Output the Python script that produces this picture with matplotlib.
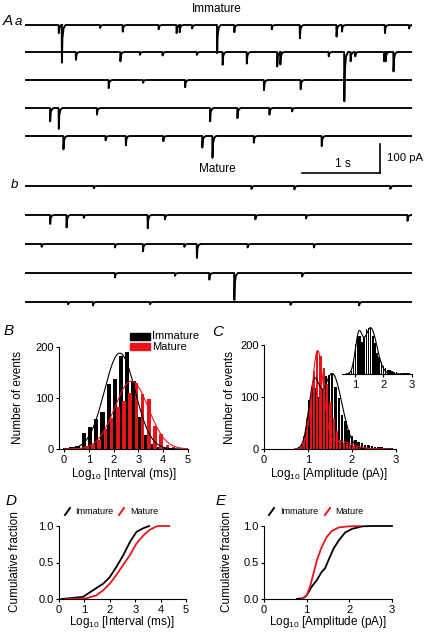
import numpy as np
import matplotlib
matplotlib.use("Agg")
import matplotlib.pyplot as plt
from matplotlib.patches import Rectangle
from matplotlib.lines import Line2D

plt.rcParams['font.family'] = ['Liberation Sans', 'DejaVu Sans']
plt.rcParams['mathtext.fontset'] = 'custom'
plt.rcParams['mathtext.rm'] = 'Liberation Sans'

# ---------------- data ----------------
# spontaneous EPSC traces: event times (s) and amplitudes (pA)
imm_event_times = [
    [0.43, 0.47, 0.96, 1.25, 1.71, 1.94, 1.98, 2.14, 2.46, 2.68, 3.16, 3.52, 3.99, 4.06, 4.61, 4.92],
    [0.65, 1.22, 1.47, 1.76, 2.20, 2.53, 2.84, 3.23, 3.27, 3.89, 4.09, 4.17, 4.23, 4.60, 4.62, 4.72],
    [1.07, 1.51, 2.05, 3.06, 3.53],
    [0.32, 0.43, 0.92, 2.37, 2.72, 3.13, 3.42],
    [0.49, 1.03, 1.29, 1.77, 2.27, 2.40, 2.93, 3.80],
]
imm_event_amps = [
    [28, 130, 10, 23, 15, 28, 25, 12, 97, 25, 15, 46, 40, 23, 28, 12],
    [27, 32, 10, 12, 10, 44, 40, 50, 43, 15, 170, 32, 15, 32, 32, 67],
    [28, 10, 25, 35, 32],
    [46, 72, 23, 46, 35, 23, 12],
    [46, 15, 32, 18, 40, 75, 23, 35],
]
mat_event_times = [
    [0.88, 2.90, 3.45, 4.68],
    [0.32, 0.53, 0.75, 1.57, 1.79, 2.95, 3.60, 4.90],
    [0.21, 1.15, 1.51, 2.04, 2.20, 2.85, 3.70],
    [1.15, 1.92, 2.36, 2.68, 3.55],
    [0.55, 0.87, 1.60, 3.40, 4.28],
]
mat_event_amps = [
    [8, 10, 12, 10],
    [31, 43, 10, 46, 15, 15, 12, 20],
    [10, 12, 25, 10, 48, 12, 12],
    [15, 10, 23, 93, 12],
    [8, 12, 8, 10, 12],
]

# B: interval histogram (log10 ms)
imm_interval_centers = [0.05, 0.30, 0.55, 0.80, 1.05, 1.30, 1.55, 1.80, 2.05, 2.30,
                        2.55, 2.80, 3.05, 3.30, 3.55, 3.80, 4.05]
imm_interval_counts = [2, 3, 5, 32, 43, 59, 73, 127, 137, 183, 190, 133, 63, 27, 10, 3, 2]
mat_interval_centers = [0.67, 0.92, 1.17, 1.42, 1.67, 1.92, 2.17, 2.42, 2.67, 2.92,
                        3.17, 3.42, 3.67, 3.92, 4.17, 4.42]
mat_interval_counts = [2, 5, 10, 18, 40, 60, 82, 95, 110, 130, 108, 98, 45, 30, 8, 3]
# Gaussian fit parameters (amplitude, mean, sd)
imm_interval_fit = [(188, 2.25, 0.62)]
mat_interval_fit = [(133, 2.72, 0.68)]

# C: amplitude histogram (log10 pA)
imm_amp_centers = [0.800, 0.875, 0.950, 1.025, 1.100, 1.175, 1.250, 1.325, 1.400, 1.475,
                   1.550, 1.625, 1.700, 1.775, 1.850, 1.925, 2.000, 2.075, 2.150, 2.225,
                   2.300, 2.375, 2.450, 2.525, 2.600, 2.675, 2.750, 2.825, 2.900]
imm_amp_counts = [3, 10, 40, 95, 120, 118, 100, 115, 140, 143, 147, 120, 98, 66, 53, 37,
                  25, 18, 13, 11, 8, 7, 5, 4, 3, 3, 2, 2, 2]
mat_amp_centers = [0.835, 0.910, 0.985, 1.060, 1.135, 1.210, 1.285, 1.360, 1.435, 1.510,
                   1.585, 1.660, 1.735, 1.810, 1.885, 1.960, 2.035, 2.110, 2.185, 2.260]
mat_amp_counts = [5, 25, 60, 100, 150, 188, 178, 155, 125, 90, 60, 35, 18, 12, 9, 7, 5, 4, 3, 2]
imm_amp_fit = [(110, 1.13, 0.12), (145, 1.55, 0.22)]
mat_amp_fit = [(185, 1.22, 0.13), (15, 1.70, 0.30)]

# D: cumulative interval distributions
imm_cum_int_x = [0.10, 0.95, 1.34, 1.74, 2.00, 2.26, 2.53, 2.79, 3.05, 3.32, 3.55]
imm_cum_int_y = [0.00, 0.03, 0.12, 0.21, 0.30, 0.44, 0.60, 0.78, 0.92, 0.97, 1.00]
mat_cum_int_x = [0.30, 1.08, 1.47, 1.74, 2.00, 2.26, 2.53, 2.79, 3.05, 3.32, 3.58, 3.84, 3.97, 4.34]
mat_cum_int_y = [0.00, 0.01, 0.05, 0.12, 0.21, 0.33, 0.47, 0.60, 0.76, 0.87, 0.95, 0.995, 1.00, 1.00]

# E: cumulative amplitude distributions
imm_cum_amp_x = [0.77, 0.92, 1.00, 1.12, 1.24, 1.35, 1.43, 1.51, 1.63, 1.75, 1.90, 2.06, 2.30, 2.53, 3.00]
imm_cum_amp_y = [0.00, 0.01, 0.05, 0.17, 0.26, 0.37, 0.42, 0.53, 0.69, 0.80, 0.91, 0.96, 0.995, 1.00, 1.00]
mat_cum_amp_x = [0.88, 1.00, 1.08, 1.16, 1.24, 1.35, 1.47, 1.59, 1.75, 1.98, 2.25]
mat_cum_amp_y = [0.00, 0.05, 0.17, 0.35, 0.53, 0.71, 0.85, 0.93, 0.98, 0.995, 1.00]

RED = '#e8141c'
W, H = 424, 632

fig = plt.figure(figsize=(W / 100, H / 100), dpi=100)


def add_ax(l, t, r, b):
    return fig.add_axes([l / W, 1 - b / H, (r - l) / W, (b - t) / H])


def ftext(x, y, s, **kw):
    fig.text(x / W, 1 - y / H, s, **kw)


def gauss(x, comps):
    y = np.zeros_like(x)
    for a, m, s in comps:
        y += a * np.exp(-(x - m) ** 2 / (2 * s ** 2))
    return y


def style(ax, fs=8):
    for sp in ['top', 'right']:
        ax.spines[sp].set_visible(False)
    for sp in ['left', 'bottom']:
        ax.spines[sp].set_linewidth(0.8)
    ax.tick_params(direction='out', length=2.5, width=0.8, labelsize=fs, pad=1.5)


# ---------------- traces ----------------
axt = add_ax(25, 0, 412, 330)
axt.set_xlim(0, 4.96)
pa_per_px = 100 / 29.0
axt.set_ylim(-330 * pa_per_px, 0)
axt.axis('off')

kern_dt = [0.0, 0.003, 0.010, 0.025, 0.05]
kern_fr = [0.0, 1.0, 0.35, 0.08, 0.0]


def draw_trace(ax, base, times, amps):
    xs, ys = [0.0], [base]
    for t, a in sorted(zip(times, amps)):
        for dt, fr in zip(kern_dt, kern_fr):
            xs.append(t + dt)
            ys.append(base - a * fr)
    xs.append(4.96)
    ys.append(base)
    ax.plot(xs, ys, color='black', lw=1.35, solid_joinstyle='round')


imm_base_px = [25, 52, 80, 108, 136]
mat_base_px = [186, 215, 244, 273, 302]
for bpx, tt, aa in zip(imm_base_px, imm_event_times, imm_event_amps):
    draw_trace(axt, -bpx * pa_per_px, tt, aa)
for bpx, tt, aa in zip(mat_base_px, mat_event_times, mat_event_amps):
    draw_trace(axt, -bpx * pa_per_px, tt, aa)

# scale bars: 1 s, 100 pA
sb_y = -173 * pa_per_px
axt.plot([3.55, 4.55], [sb_y, sb_y], color='black', lw=1.2)
axt.plot([4.55, 4.55], [sb_y, sb_y + 100], color='black', lw=1.2)

ftext(217, 9, 'Immature', ha='center', va='center', fontsize=8.5)
ftext(217, 169, 'Mature', ha='center', va='center', fontsize=8.5)
ftext(343, 164, '1 s', ha='center', va='center', fontsize=8.5)
ftext(387, 158, '100 pA', ha='left', va='center', fontsize=8.2)
ftext(3, 21, 'A', ha='left', va='center', fontsize=11, style='italic')
ftext(15, 22, 'a', ha='left', va='center', fontsize=9.5, style='italic')
ftext(11, 185, 'b', ha='left', va='center', fontsize=9.5, style='italic')

# ---------------- B ----------------
axB = add_ax(59, 347, 188, 449)
axB.bar(imm_interval_centers, imm_interval_counts, width=0.17, color='black', zorder=2)
axB.bar(mat_interval_centers, mat_interval_counts, width=0.15, color=RED, zorder=3)
xg = np.linspace(0, 5, 300)
axB.plot(xg, gauss(xg, imm_interval_fit), color='black', lw=0.8, zorder=4)
axB.plot(xg, gauss(xg, mat_interval_fit), color=RED, lw=0.8, zorder=4)
axB.set_xlim(-0.2, 5)
axB.set_ylim(0, 200)
axB.set_xticks([0, 1, 2, 3, 4, 5])
axB.set_yticks([0, 100, 200])
style(axB)

# legend B
fig.add_artist(Rectangle((130 / W, 1 - 340 / H), 20 / W, 7 / H, transform=fig.transFigure, color='black'))
fig.add_artist(Rectangle((130 / W, 1 - 350 / H), 20 / W, 7 / H, transform=fig.transFigure, color=RED))
ftext(152, 336, 'Immature', ha='left', va='center', fontsize=8)
ftext(152, 347, 'Mature', ha='left', va='center', fontsize=8)

ftext(18, 398, 'Number of events', rotation=90, ha='center', va='center', fontsize=8.5)
ftext(124, 474, r'Log$_{\mathregular{10}}$ [Interval (ms)]', ha='center', va='center', fontsize=8.5)
ftext(4, 331, 'B', ha='left', va='center', fontsize=11, style='italic')

# ---------------- C ----------------
axC = add_ax(264, 345, 396, 449)
axC.bar(imm_amp_centers, imm_amp_counts, width=0.055, color='black', zorder=2)
axC.bar(mat_amp_centers, mat_amp_counts, width=0.05, color=RED, zorder=3)
xc = np.linspace(0.7, 2.9, 300)
axC.plot(xc, gauss(xc, imm_amp_fit), color='black', lw=0.8, zorder=4)
axC.plot(xc, gauss(xc, mat_amp_fit), color=RED, lw=0.8, zorder=4)
axC.set_xlim(0, 3)
axC.set_ylim(0, 200)
axC.set_xticks([0, 1, 2, 3])
axC.set_yticks([0, 100, 200])
style(axC)

ftext(230, 398, 'Number of events', rotation=90, ha='center', va='center', fontsize=8.5)
ftext(329, 474, r'Log$_{\mathregular{10}}$ [Amplitude (pA)]', ha='center', va='center', fontsize=8.5)
ftext(212, 332, 'C', ha='left', va='center', fontsize=11, style='italic')

# inset
axI = add_ax(342, 323, 412, 374)
axI.bar(imm_amp_centers, imm_amp_counts, width=0.055, color='black', zorder=2)
axI.plot(xc, gauss(xc, imm_amp_fit), color='black', lw=0.8, zorder=3)
axI.set_xlim(0.55, 3)
axI.set_ylim(0, 160)
axI.set_xticks([1, 2, 3])
axI.set_yticks([])
style(axI)
axI.spines['left'].set_visible(False)

# ---------------- D ----------------
axD = add_ax(59, 526, 186, 599)
axD.plot(imm_cum_int_x, imm_cum_int_y, color='black', lw=1.3, clip_on=False)
axD.plot(mat_cum_int_x, mat_cum_int_y, color=RED, lw=1.3, clip_on=False)
axD.set_xlim(0, 5)
axD.set_ylim(0, 1)
axD.set_xticks([0, 1, 2, 3, 4, 5])
axD.set_yticks([0, 0.5, 1.0])
axD.set_yticklabels(['0.0', '0.5', '1.0'])
style(axD)

ftext(15, 562, 'Cumulative fraction', rotation=90, ha='center', va='center', fontsize=8.5)
ftext(122, 622, r'Log$_{\mathregular{10}}$ [Interval (ms)]', ha='center', va='center', fontsize=8.5)
ftext(6, 501, 'D', ha='left', va='center', fontsize=11, style='italic')
fig.add_artist(Line2D([65 / W, 70 / W], [1 - 515 / H, 1 - 508 / H], transform=fig.transFigure, color='black', lw=1.4))
ftext(75, 511, 'Immature', ha='left', va='center', fontsize=6.5)
fig.add_artist(Line2D([119 / W, 124 / W], [1 - 515 / H, 1 - 508 / H], transform=fig.transFigure, color=RED, lw=1.4))
ftext(130, 511, 'Mature', ha='left', va='center', fontsize=6.5)

# ---------------- E ----------------
axE = add_ax(264, 526, 392, 599)
axE.plot(imm_cum_amp_x, imm_cum_amp_y, color='black', lw=1.3, clip_on=False)
axE.plot(mat_cum_amp_x, mat_cum_amp_y, color=RED, lw=1.3, clip_on=False)
axE.set_xlim(0, 3)
axE.set_ylim(0, 1)
axE.set_xticks([0, 1, 2, 3])
axE.set_yticks([0, 0.5, 1.0])
axE.set_yticklabels(['0.0', '0.5', '1.0'])
style(axE)

ftext(227, 562, 'Cumulative fraction', rotation=90, ha='center', va='center', fontsize=8.5)
ftext(328, 622, r'Log$_{\mathregular{10}}$ [Amplitude (pA)]', ha='center', va='center', fontsize=8.5)
ftext(216, 501, 'E', ha='left', va='center', fontsize=11, style='italic')
fig.add_artist(Line2D([269 / W, 274 / W], [1 - 515 / H, 1 - 508 / H], transform=fig.transFigure, color='black', lw=1.4))
ftext(280, 511, 'Immature', ha='left', va='center', fontsize=6.5)
fig.add_artist(Line2D([325 / W, 330 / W], [1 - 515 / H, 1 - 508 / H], transform=fig.transFigure, color=RED, lw=1.4))
ftext(335, 511, 'Mature', ha='left', va='center', fontsize=6.5)

fig.savefig('out.png', dpi=100)
